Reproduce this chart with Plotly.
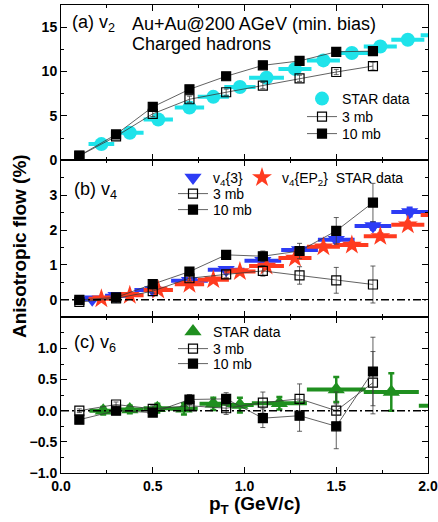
import plotly.graph_objects as go

# ---------------- data ----------------
pt_model = [0.1, 0.3, 0.5, 0.7, 0.9, 1.1, 1.3, 1.5, 1.7]

# (a) v2 (%)
v2_3mb = [0.5, 2.7, 5.24, 6.88, 7.67, 8.42, 9.24, 9.95, 10.62]
v2_3mb_err = [0.1, 0.2, 0.3, 0.35, 0.35, 0.35, 0.35, 0.3, 0.45]
v2_10mb = [0.52, 2.92, 6.02, 8.0, 9.47, 10.7, 11.2, 12.23, 12.3]
v2_10mb_err = [0.1, 0.15, 0.2, 0.25, 0.25, 0.25, 0.3, 0.3, 0.4]
pt_star = [0.22, 0.375, 0.53, 0.70, 0.83, 0.975, 1.12, 1.275, 1.43, 1.585, 1.74, 1.89, 2.05]
pt_star_err = [0.07, 0.075, 0.08, 0.08, 0.085, 0.085, 0.095, 0.09, 0.09, 0.09, 0.09, 0.09, 0.09]
v2_star = [1.83, 3.1, 4.6, 5.95, 7.15, 8.27, 9.3, 10.3, 11.26, 12.1, 12.83, 13.58, 14.1]

# (b) v4 (%)
v4_3mb = [-0.06, 0.04, 0.25, 0.62, 0.73, 0.83, 0.70, 0.56, 0.44]
v4_3mb_err = [0.03, 0.04, 0.06, 0.08, 0.1, 0.15, 0.25, 0.37, 0.53]
v4_10mb = [0.0, 0.07, 0.45, 0.81, 1.29, 1.25, 1.40, 1.98, 2.79]
v4_10mb_err = [0.03, 0.04, 0.05, 0.07, 0.1, 0.15, 0.22, 0.38, 0.55]
pt_v4_3 = [0.17, 0.3, 0.5, 0.7, 0.9, 1.1, 1.3, 1.5, 1.7, 1.9, 2.1]
pt_v4_3_err = [0.07, 0.06, 0.1, 0.1, 0.1, 0.1, 0.1, 0.1, 0.1, 0.1, 0.1]
v4_3 = [0.02, 0.12, 0.28, 0.55, 0.86, 1.12, 1.43, 1.72, 2.12, 2.52, 2.92]
v4_3_err = [0.05, 0.05, 0.05, 0.05, 0.05, 0.06, 0.07, 0.08, 0.1, 0.12, 0.14]
v4_ep2 = [0.03, 0.13, 0.28, 0.45, 0.58, 0.81, 0.97, 1.2, 1.52, 1.57, 1.82, 2.15, 2.43]
v4_ep2_err = [0.03, 0.03, 0.03, 0.04, 0.04, 0.05, 0.05, 0.06, 0.07, 0.08, 0.08, 0.09, 0.1]

# (c) v6 (%)
v6_3mb = [0.0, 0.1, 0.03, 0.08, 0.04, 0.13, 0.19, 0.0, 0.45]
v6_3mb_err = [0.03, 0.04, 0.05, 0.07, 0.1, 0.17, 0.24, 0.3, 0.5]
v6_10mb = [-0.144, 0.0, -0.03, 0.18, 0.19, -0.12, -0.08, -0.25, 0.63]
v6_10mb_err = [0.04, 0.04, 0.05, 0.08, 0.1, 0.15, 0.25, 0.36, 0.55]
pt_v6 = [0.23, 0.375, 0.525, 0.67, 0.83, 0.975, 1.19, 1.5, 1.8, 2.1]
pt_v6_err = [0.075, 0.075, 0.075, 0.075, 0.075, 0.075, 0.15, 0.16, 0.15, 0.15]
v6_star = [0.0, 0.02, 0.04, 0.03, 0.11, 0.09, 0.12, 0.34, 0.30, 0.08]
v6_star_err = [0.06, 0.06, 0.07, 0.09, 0.1, 0.12, 0.1, 0.2, 0.3, 0.2]

# ---------------- style ----------------
FONT = "Liberation Sans"
CYAN = "#1FE3EA"
BLUE = "#2D3CF5"
RED = "#FF3B1F"
GREEN = "#1F8F1F"
LINE = "#3a3a3a"

fig = go.Figure()

def model(x, y, err, name, filled, xa, ya, legend):
    fig.add_trace(go.Scatter(
        x=x, y=y, mode="lines+markers", name=name, xaxis=xa, yaxis=ya,
        legend=legend, showlegend=True,
        line=dict(color=LINE, width=0.8),
        marker=dict(symbol="square" if filled else "square-open", size=9,
                    color="black", line=dict(color="black", width=1.2)),
        error_y=dict(type="data", array=err, color=LINE, thickness=0.8, width=2.5),
    ))

def star(x, xe, y, ye, name, symbol, color, size, xa, ya, legend):
    fig.add_trace(go.Scatter(
        x=x, y=y, mode="markers", name=name, xaxis=xa, yaxis=ya, legend=legend,
        showlegend=True,
        marker=dict(symbol=symbol, size=size, color=color, line=dict(width=0)),
        error_x=dict(type="data", array=xe, color=color, thickness=4, width=0),
        error_y=dict(type="data", array=ye, color=color, thickness=2.5, width=3),
    ))

# panel (a)
star(pt_star, pt_star_err, v2_star, [0.15] * len(v2_star), "STAR data", "circle", CYAN, 14, "x3", "y3", "legend")
model(pt_model, v2_3mb, v2_3mb_err, "3 mb", False, "x3", "y3", "legend2")
model(pt_model, v2_10mb, v2_10mb_err, "10 mb", True, "x3", "y3", "legend3")

# panel (b)
star(pt_v4_3, pt_v4_3_err, v4_3, v4_3_err, "v<sub>4</sub>{3}", "triangle-down", BLUE, 15, "x2", "y2", "legend4")
star(pt_star, pt_star_err, v4_ep2, v4_ep2_err, "v<sub>4</sub>{EP<sub>2</sub>}  STAR data", "star", RED, 15, "x2", "y2", "legend5")
model(pt_model, v4_3mb, v4_3mb_err, "3 mb", False, "x2", "y2", "legend6")
model(pt_model, v4_10mb, v4_10mb_err, "10 mb", True, "x2", "y2", "legend7")

# panel (c)
star(pt_v6, pt_v6_err, v6_star, v6_star_err, "STAR data", "triangle-up", GREEN, 15, "x", "y", "legend8")
model(pt_model, v6_3mb, v6_3mb_err, "3 mb", False, "x", "y", "legend9")
model(pt_model, v6_10mb, v6_10mb_err, "10 mb", True, "x", "y", "legend10")

tickfont = dict(family=FONT, size=14, color="black", weight="bold")
common_x = dict(range=[0, 2.0], showline=True, linewidth=1, linecolor="black", mirror="allticks",
                ticks="inside", ticklen=6, tickwidth=1, tickcolor="black",
                tickvals=[0, 0.5, 1.0, 1.5, 2.0], showgrid=False, zeroline=False,
                minor=dict(ticks="inside", ticklen=3, tickwidth=1, tickcolor="black",
                           tickvals=[0.25, 0.75, 1.25, 1.75]),
                tickfont=tickfont, automargin=False)
common_y = dict(showline=True, linewidth=1, linecolor="black", mirror="allticks",
                ticks="inside", ticklen=6, tickwidth=1, tickcolor="black",
                showgrid=False, zeroline=False, tickfont=tickfont, automargin=False)

DOM_C = [0.0, 0.3327]
DOM_B = [0.3327, 0.6681]
DOM_A = [0.6681, 1.0]

# legend rows: (name, left px, centre y px)
W, H, L, B, T = 438, 522, 61, 49, 5
PW, PH = W - L - 10, H - T - B
leg_pos = {
    "legend": (302, 99), "legend2": (302, 117), "legend3": (302, 134),
    "legend4": (173, 178), "legend5": (242, 178), "legend6": (173, 194), "legend7": (173, 210),
    "legend8": (173, 332), "legend9": (173, 349), "legend10": (173, 364),
}
legends = {}
for k, (px, py) in leg_pos.items():
    legends[k] = dict(x=(px - L) / PW, y=(H - B - py) / PH, xanchor="left", yanchor="middle",
                      bgcolor="rgba(0,0,0,0)", font=dict(family=FONT, size=14, color="black"),
                      itemwidth=30)

fig.update_layout(
    width=W, height=H, showlegend=True,
    margin=dict(l=L, r=10, t=T, b=B, autoexpand=False),
    paper_bgcolor="white", plot_bgcolor="white",
    font=dict(family=FONT, color="black"),
    xaxis=dict(common_x, anchor="y", tickformat=".1f"),
    xaxis2=dict(common_x, anchor="y2", matches="x", showticklabels=False),
    xaxis3=dict(common_x, anchor="y3", matches="x", showticklabels=False),
    yaxis=dict(common_y, domain=DOM_C, range=[-1.0, 1.5], tickvals=[-1, -0.5, 0, 0.5, 1.0],
               tickformat=".1f",
               minor=dict(ticks="inside", ticklen=3, tickwidth=1, tickcolor="black",
                          tickvals=[-0.75, -0.25, 0.25, 0.75, 1.25])),
    yaxis2=dict(common_y, domain=DOM_B, range=[-0.5, 4.0], tickvals=[0, 1, 2, 3],
                minor=dict(ticks="inside", ticklen=3, tickwidth=1, tickcolor="black",
                           tickvals=[-0.5, 0.5, 1.5, 2.5, 3.5])),
    yaxis3=dict(common_y, domain=DOM_A, range=[0, 17.5], tickvals=[0, 5, 10, 15],
                minor=dict(ticks="inside", ticklen=3, tickwidth=1, tickcolor="black",
                           tickvals=[2.5, 7.5, 12.5])),
    **legends,
)

# zero reference lines
for xr, ya in [("x domain", "y"), ("x2 domain", "y2")]:
    fig.add_shape(type="line", xref=xr, yref=ya, x0=0, x1=1, y0=0, y1=0,
                  line=dict(color="black", width=1.5, dash="8px,3px,2px,3px"))

ann_font = dict(family=FONT, size=18, color="black")
labels = [
    ("(a) v<sub>2</sub>", 70, 24),
    ("Au+Au@200 AGeV (min. bias)", 130, 24),
    ("Charged hadrons", 130, 44),
    ("(b) v<sub>4</sub>", 72, 190),
    ("(c) v<sub>6</sub>", 72, 343),
]
for txt, px, py in labels:
    fig.add_annotation(text=txt, x=(px - L) / PW, y=(H - B - py) / PH, xref="paper", yref="paper",
                       xanchor="left", yanchor="middle", showarrow=False, font=ann_font)

fig.add_annotation(text="<b>Anisotropic flow (%)</b>", x=(20 - L) / PW, y=(H - B - 246) / PH,
                   xref="paper", yref="paper", xanchor="center", yanchor="middle",
                   textangle=-90, showarrow=False, font=dict(family=FONT, size=19))
fig.add_annotation(text="<b>p<sub>T</sub> (GeV/c)</b>", x=(255 - L) / PW, y=(H - B - 505) / PH,
                   xref="paper", yref="paper", xanchor="center", yanchor="middle",
                   showarrow=False, font=dict(family=FONT, size=19))

fig.write_html("out.html", config={"displayModeBar": False},
               post_script="document.body.style.margin='0px';")
